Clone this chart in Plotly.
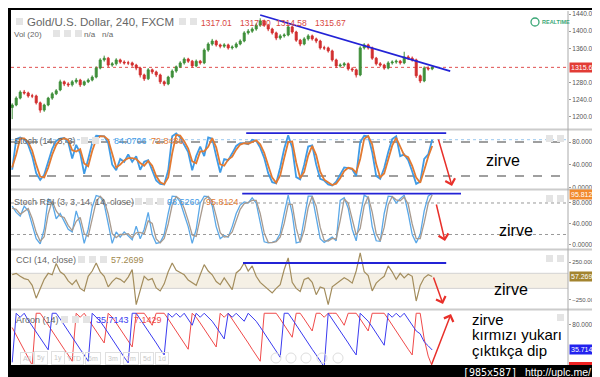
import plotly.graph_objects as go

# ---------------- data ----------------
bars = list(range(106))

opens = [1222,1228,1244,1258,1256,1249,1249,1233,1216,1228,
         1244,1254,1263,1282,1277,1275,1282,1286,1275,1282,
         1286,1293,1314,1333,1337,1321,1324,1333,1328,1326,
         1326,1321,1314,1298,1289,1310,1305,1298,1282,1277,
         1293,1307,1317,1326,1335,1330,1319,1330,1326,1356,
         1370,1377,1368,1365,1368,1361,1363,1370,1377,1396,
         1400,1405,1414,1424,1414,1405,1396,1384,1389,1391,
         1410,1398,1379,1370,1382,1389,1382,1377,1361,1361,
         1354,1333,1319,1321,1324,1312,1310,1298,1361,1368,
         1361,1337,1324,1321,1314,1326,1328,1330,1326,1340,
         1337,1333,1296,1284,1314,1312]
highs = [1232,1248,1262,1263,1259,1254,1252,1236,1231,1247,
         1258,1265,1287,1285,1281,1286,1291,1289,1285,1290,
         1297,1318,1337,1343,1340,1328,1337,1336,1332,1331,
         1329,1324,1317,1301,1314,1313,1308,1301,1285,1296,
         1311,1320,1330,1339,1338,1333,1334,1333,1360,1374,
         1382,1380,1371,1372,1371,1367,1374,1381,1400,1405,
         1409,1418,1430,1427,1417,1408,1399,1393,1395,1415,
         1413,1401,1382,1386,1393,1392,1385,1380,1366,1364,
         1357,1336,1325,1328,1327,1316,1313,1365,1372,1371,
         1364,1340,1328,1324,1330,1332,1334,1333,1352,1344,
         1341,1336,1299,1318,1318,1319]
lows = [1195,1225,1241,1252,1245,1244,1229,1210,1212,1225,
        1240,1251,1260,1272,1270,1271,1278,1270,1272,1279,
        1283,1290,1311,1329,1316,1317,1320,1324,1322,1321,
        1317,1309,1292,1284,1286,1300,1293,1277,1272,1274,
        1290,1303,1314,1322,1326,1315,1316,1322,1323,1352,
        1366,1364,1360,1361,1357,1357,1360,1367,1374,1392,
        1396,1401,1410,1410,1400,1392,1379,1380,1385,1388,
        1394,1375,1365,1367,1378,1378,1372,1357,1356,1350,
        1329,1314,1315,1317,1308,1305,1292,1295,1357,1357,
        1333,1320,1317,1310,1311,1322,1324,1322,1323,1333,
        1329,1291,1279,1281,1308,1309]
closes = [1228,1244,1258,1256,1249,1249,1233,1216,1228,1244,
          1254,1261,1282,1277,1275,1282,1286,1275,1282,1286,
          1293,1314,1333,1337,1321,1324,1333,1328,1326,1326,
          1321,1314,1298,1289,1310,1305,1298,1282,1277,1293,
          1307,1317,1326,1335,1330,1319,1330,1326,1356,1370,
          1377,1368,1365,1368,1361,1363,1370,1377,1396,1400,
          1405,1414,1424,1414,1405,1396,1384,1389,1391,1410,
          1398,1379,1370,1382,1389,1382,1377,1361,1361,1354,
          1333,1319,1321,1324,1312,1310,1298,1361,1368,1361,
          1337,1324,1321,1314,1326,1328,1330,1326,1340,1337,
          1333,1296,1284,1314,1312,1315.67]

stoch_k = [31,85,88,85,75,55,25,13,22,47,
           68,82,86,87,80,51,75,60,24,50,
           78,91,90,90,78,40,30,50,45,58,
           45,55,31,45,48,28,12,6,5,30,
           90,95,88,75,62,30,55,72,55,88,
           86,55,26,50,48,60,73,78,78,76,
           84,82,70,52,25,9,7,35,68,92,
           70,18,14,40,72,74,40,15,12,5,
           3,10,22,35,34,32,20,80,91,90,
           62,20,15,34,62,85,90,55,58,48,
           28,6,10,50,58,84.0706]
stoch_d = [35,58,86.5,86.5,80,65,40,19,17.5,34.5,
           57.5,75,84,86.5,83.5,65.5,63,67.5,42,37,
           64,84.5,90.5,90,84,59,35,40,47.5,51.5,
           51.5,50,43,38,46.5,38,20,9,5.5,17.5,
           60,92.5,91.5,81.5,68.5,46,42.5,63.5,63.5,71.5,
           87,70.5,40.5,38,49,54,66.5,75.5,78,77,
           80,83,76,61,38.5,17,8,21,51.5,80,
           81,44,16,27,56,73,57,27.5,13.5,8.5,
           4,6.5,16,28.5,34.5,33,26,50,85.5,90.5,
           76,41,17.5,24.5,48,73.5,87.5,72.5,56.5,53,
           38,17,8,30,54,72.8436]

srsi_k = [74,62,55,74,65,36,12,2,30,88,
          80,50,60,45,30,25,65,40,3,30,
          72,94,92,78,40,3,25,15,25,18,
          10,36,12,30,62,20,3,5,20,60,
          93,92,82,58,35,3,30,80,93,92,
          75,35,12,18,15,35,60,76,82,80,
          90,80,40,6,4,5,8,22,60,95,
          60,4,6,50,93,93,55,12,5,10,
          15,8,85,90,70,30,8,55,95,90,
          35,8,7,60,93,92,80,88,95,60,
          20,4,20,65,93,98.526]
srsi_d = [70,68,58.5,64.5,69.5,50.5,24,7,16,59,
          84,65,55,52.5,37.5,27.5,45,52.5,21.5,16.5,
          51,83,93,85,59,21.5,14,20,20,21.5,
          14,23,24,21,46,41,11.5,4,12.5,40,
          76.5,92.5,87,70,46.5,19,16.5,55,86.5,92.5,
          83.5,55,23.5,15,16.5,25,47.5,68,79,81,
          85,85,60,23,5,4.5,6.5,15,41,77.5,
          77.5,32,5,28,71.5,93,74,33.5,8.5,7.5,
          12.5,11.5,46.5,87.5,80,50,19,31.5,75,92.5,
          62.5,21.5,7.5,33.5,76.5,92.5,86,84,91.5,77.5,
          40,12,12,42.5,79,95.8124]

cci = [82,100,60,30,15,-60,-230,-100,20,100,
       80,230,120,82,0,-50,10,-100,-134,60,
       130,237,120,60,-80,-10,40,20,-20,50,
       149,-316,-120,60,10,30,-94,-134,-40,120,
       237,140,110,80,10,-30,-60,80,215,130,
       80,-10,-50,40,-40,-117,105,150,240,130,
       198,60,-20,-68,-120,-160,-100,-50,150,304,
       -20,-100,-140,20,40,-20,-183,-80,-100,-316,
       -80,-40,-10,40,10,-30,131,370,120,70,
       -134,-30,20,60,198,120,20,100,40,90,
       60,-267,-60,40,82,57.2699]

aroon_up = [14,100,93,100,88,78,67,57,46,36,
            100,100,90,79,69,58,48,37,27,16,
            100,93,86,76,65,55,44,34,23,13,
            100,100,90,79,69,58,48,37,27,100,
            93,100,93,100,90,79,100,93,100,93,
            86,76,65,55,100,93,100,93,86,100,
            93,86,76,65,55,44,34,23,100,100,
            90,79,69,58,48,37,27,16,6,100,
            90,79,69,58,48,37,27,100,93,86,
            76,65,55,44,100,93,100,93,100,90,
            79,69,64,50,43,35.7143]
aroon_down = [75,62,48,35,22,9,100,100,90,79,
              69,58,48,37,27,16,100,93,100,90,
              79,69,58,48,100,93,83,72,62,51,
              41,100,100,100,90,79,100,100,100,90,
              79,69,58,48,37,100,93,83,72,62,
              51,41,100,93,100,90,79,69,58,48,
              37,27,16,100,100,100,100,90,79,69,
              58,100,100,90,79,69,100,100,93,100,
              100,100,90,79,100,100,100,90,79,69,
              100,100,100,100,90,79,69,58,48,37,
              27,100,100,55,25,7.1429]

price_ticks = [1200, 1240, 1280, 1360, 1400, 1440]
osc_ticks = [0, 40, 80]
cci_ticks = [-250, 250]
aroon_ticks = [80]

last_price = 1315.67
ohlc_text = ["1317.01", "1317.80", "1314.58", "1315.67"]

# user drawings (bar index / value anchors)
trend_main_x, trend_main_y = [62.0, 109.5], [1437.7, 1307.0]
stoch_top_x, stoch_top_y = [58.5, 108.5], [95.5, 95.5]
srsi_top_x, srsi_top_y = [57.5, 112.2], [97.7, 97.7]
cci_top_x, cci_top_y = [57.7, 108.5], [237, 237]

# ---------------- styling ----------------
W, H = 600, 377
FONT = "Liberation Sans, Arial, sans-serif"
GREEN, RED = "#3f8f3a", "#d22f2f"
DBLUE = "#2323d6"


def X(px):
    return px / W


def Y(py):
    return 1 - py / H


fig = go.Figure()

fig.add_trace(go.Candlestick(
    x=bars, open=opens, high=highs, low=lows, close=closes,
    increasing=dict(line=dict(color=GREEN, width=1), fillcolor=GREEN),
    decreasing=dict(line=dict(color=RED, width=1), fillcolor=RED),
    whiskerwidth=0, xaxis="x", yaxis="y", hoverinfo="skip"))
fig.add_trace(go.Scatter(x=trend_main_x, y=trend_main_y, mode="lines",
                         line=dict(color=DBLUE, width=1.8), xaxis="x", yaxis="y"))

fig.add_trace(go.Scatter(x=bars, y=stoch_k, mode="lines",
                         line=dict(color="#3f9be6", width=1.8), xaxis="x", yaxis="y2"))
fig.add_trace(go.Scatter(x=bars, y=stoch_d, mode="lines",
                         line=dict(color="#e27a32", width=1.8), xaxis="x", yaxis="y2"))
fig.add_trace(go.Scatter(x=stoch_top_x, y=stoch_top_y, mode="lines",
                         line=dict(color=DBLUE, width=1.8), xaxis="x", yaxis="y2"))

fig.add_trace(go.Scatter(x=bars, y=srsi_k, mode="lines",
                         line=dict(color="#5aa8e8", width=1.3), xaxis="x", yaxis="y3"))
fig.add_trace(go.Scatter(x=bars, y=srsi_d, mode="lines",
                         line=dict(color="#a89a8e", width=1.3), xaxis="x", yaxis="y3"))
fig.add_trace(go.Scatter(x=srsi_top_x, y=srsi_top_y, mode="lines",
                         line=dict(color=DBLUE, width=1.8), xaxis="x", yaxis="y3"))

fig.add_trace(go.Scatter(x=bars, y=cci, mode="lines",
                         line=dict(color="#a38d5d", width=1.2), xaxis="x", yaxis="y4"))
fig.add_trace(go.Scatter(x=cci_top_x, y=cci_top_y, mode="lines",
                         line=dict(color=DBLUE, width=1.8), xaxis="x", yaxis="y4"))

fig.add_trace(go.Scatter(x=bars, y=aroon_down, mode="lines",
                         line=dict(color="#f04a4a", width=1), xaxis="x", yaxis="y5"))
fig.add_trace(go.Scatter(x=bars, y=aroon_up, mode="lines",
                         line=dict(color="#3b3bf0", width=1), xaxis="x", yaxis="y5"))


def yax(dom, rng, tickvals, fmt, fsize=6.5):
    return dict(domain=dom, range=rng, side="right", anchor="x",
                tickvals=tickvals, tickformat=fmt, ticks="outside", ticklen=2,
                tickcolor="#999", tickfont=dict(family=FONT, size=fsize, color="#555"),
                showgrid=False, zeroline=False, showline=False, fixedrange=True,
                automargin=False)


fig.update_layout(
    width=W, height=H, margin=dict(l=0, r=0, t=0, b=0, pad=0, autoexpand=False),
    paper_bgcolor="white", plot_bgcolor="white", showlegend=False,
    xaxis=dict(domain=[X(3), X(560)], range=[-0.3, 138.95], visible=False,
               rangeslider=dict(visible=False), fixedrange=True, automargin=False),
    yaxis=yax([Y(121), Y(3)], [1172, 1447], price_ticks, ".2f"),
    yaxis2=yax([Y(181), Y(122.5)], [-3, 100.3], osc_ticks, ".4f"),
    yaxis3=yax([Y(240.5), Y(182.5)], [-6.7, 103.8], osc_ticks, ".4f"),
    yaxis4=yax([Y(300.5), Y(242.5)], [-366.7, 402.5], cci_ticks, ".4f", 6.0),
    yaxis5=yax([0, Y(302)], [-25.6, 105.7], aroon_ticks, ".4f"),
)

shapes = []
# CCI band
shapes.append(dict(type="rect", xref="x domain", yref="y4", x0=0, x1=1, y0=-100, y1=100,
                   fillcolor="#f5f0e5", line=dict(width=0), layer="below"))
for v in (-100, 100):
    shapes.append(dict(type="line", xref="x domain", yref="y4", x0=0, x1=1, y0=v, y1=v,
                       line=dict(color="#d3d3d3", width=1), layer="below"))
# stoch levels
for v in (80, 20):
    shapes.append(dict(type="line", xref="x domain", yref="y2", x0=0, x1=1, y0=v, y1=v,
                       line=dict(color="#808080", width=1.5, dash="dash"), layer="below"))
shapes.append(dict(type="line", xref="x domain", yref="y2", x0=0, x1=1, y0=stoch_k[-1], y1=stoch_k[-1],
                   line=dict(color="#9cc9ef", width=1, dash="dot"), layer="below"))
# stoch rsi levels
for v in (80, 20):
    shapes.append(dict(type="line", xref="x domain", yref="y3", x0=0, x1=1, y0=v, y1=v,
                       line=dict(color="#999999", width=1, dash="dot"), layer="below"))
# last price line
shapes.append(dict(type="line", xref="x domain", yref="y", x0=0, x1=1, y0=last_price, y1=last_price,
                   line=dict(color="#e05050", width=1, dash="dot"), layer="below"))
# separators
for py in (121.5, 181.5, 241.5, 301.5):
    shapes.append(dict(type="line", xref="paper", yref="paper", x0=X(3), x1=X(596),
                       y0=Y(py), y1=Y(py), line=dict(color="#cccccc", width=2)))
# right axis line
shapes.append(dict(type="line", xref="paper", yref="paper", x0=X(560), x1=X(560),
                   y0=Y(3), y1=Y(357), line=dict(color="#aaaaaa", width=1)))
# small gray icon squares
icon_boxes = [(8, 10), (171, 10), (182, 10), (45, 22), (56, 22), (67, 22),
              (73, 129), (84, 129), (127, 190), (138, 190), (149, 190),
              (70, 248), (81, 248), (92, 248), (53, 308), (64, 308), (75, 308),
              (538, 127), (549, 127), (538, 187), (549, 187), (538, 247), (549, 247), (549, 306)]
for bx, by in icon_boxes:
    shapes.append(dict(type="rect", xref="paper", yref="paper", x0=X(bx), x1=X(bx + 7),
                       y0=Y(by + 7), y1=Y(by), fillcolor="#e4e4e4", line=dict(width=0)))
# faint range-selector circles
for cx in (268, 283, 298, 314, 330):
    shapes.append(dict(type="circle", xref="paper", yref="paper", x0=X(cx - 5), x1=X(cx + 5),
                       y0=Y(355), y1=Y(345), line=dict(color="#dedede", width=1)))
# realtime icon
shapes.append(dict(type="circle", xref="paper", yref="paper", x0=X(523), x1=X(531),
                   y0=Y(18), y1=Y(10), line=dict(color="#3aa776", width=1.3)))
# aroon down value box (cut by the frame)
shapes.append(dict(type="rect", xref="paper", yref="paper", x0=X(561), x1=X(590),
                   y0=Y(363), y1=Y(354), fillcolor="#ee2222", line=dict(width=0)))
# black frame
for x0, x1, y0, y1 in [(0, 3, 0, 377), (596, 600, 0, 377), (0, 600, 0, 2), (0, 600, 357, 377)]:
    shapes.append(dict(type="rect", xref="paper", yref="paper", x0=X(x0), x1=X(x1),
                       y0=Y(y1), y1=Y(y0), fillcolor="black", line=dict(width=0), layer="above"))
fig.update_layout(shapes=shapes)

ann = []


def txt(px, py, s, size=9, color="#555", family=FONT, anchor="left", pad=0, **kw):
    ann.append(dict(xref="paper", yref="paper", x=X(px), y=Y(py), text=s, showarrow=False,
                    xanchor=anchor, yanchor="middle", borderpad=pad,
                    font=dict(family=family, size=size, color=color), **kw))


txt(18, 14, "Gold/U.S. Dollar, 240, FXCM", size=11.5, color="#666")
for px, s in zip((192, 231, 267, 306), ohlc_text):
    txt(px, 15, s, size=8.5, color="#d9463f")
txt(5, 26, "Vol (20)", size=8, color="#666")
txt(75, 26, "n/a", size=8, color="#666")
txt(93, 26, "n/a", size=8, color="#666")
txt(533, 14, "<b>REALTIME</b>", size=5.5, color="#3aa776")

txt(5, 133, "Stoch (14, 3, 3)", size=9, color="#666")
txt(105, 133, "84.0706", size=9, color="#3f9be6")
txt(142, 133, "72.8436", size=9, color="#e27a32")
txt(5, 194, "Stoch RSI (3, 3, 14, 14, close)", size=9, color="#666")
txt(158, 194, "98.5260", size=9, color="#3f9be6")
txt(197, 194, "95.8124", size=9, color="#e27a32")
txt(7, 252, "CCI (14, close)", size=9, color="#666")
txt(102, 252, "57.2699", size=9, color="#a0884e")
txt(7, 312, "Aroon (14)", size=9, color="#666")
txt(87, 312, "35.7143", size=9, color="#3b3bf0")
txt(125, 312, "7.1429", size=9, color="#f04a4a")

# right-axis value boxes
for yref, val, s, bg in [("y", last_price, "1315.67", "#e23c36"),
                         ("y3", srsi_d[-1], "95.8124", "#f28a2d"),
                         ("y4", cci[-1], "57.2699", "#a3842f"),
                         ("y5", aroon_up[-1], "35.7143", "#2222ee")]:
    ann.append(dict(xref="paper", yref=yref, x=X(561), y=val, text=s, showarrow=False,
                    xanchor="left", yanchor="middle", bgcolor=bg, borderpad=1,
                    font=dict(family=FONT, size=7, color="white")))

# notes
txt(477, 152, "zirve", size=16, color="black")
txt(490, 222, "zirve", size=16, color="black")
txt(485, 281, "zirve", size=16, color="black")
txt(463, 311, "zirve", size=15, color="black")
txt(463, 326.5, "kırmızı yukarı", size=15, color="black")
txt(463, 342, "çıktıkça dip", size=15, color="black")

# range selector (faint)
for px, s in zip((19, 33, 50, 66, 85, 105, 123, 139, 154),
                 ("All", "5y", "1y", "YTD", "6m", "3m", "1m", "5d", "1d")):
    txt(px, 350, s, size=7, color="#c8c8c8", anchor="center", pad=2,
        bordercolor="#e0e0e0", borderwidth=1)

# red arrows
for hx, hy, ax, ay in [(444, 178, -14, -48), (437, 233, -9, -38), (435, 296, -10, -28), (443, 306, -20, 52)]:
    ann.append(dict(xref="paper", yref="paper", x=X(hx), y=Y(hy), ax=ax, ay=ay,
                    axref="pixel", ayref="pixel", text="", showarrow=True,
                    arrowhead=4, arrowsize=1.3, arrowwidth=1.5, arrowcolor="#e8302a"))

# footer
txt(454, 364, "[985x587]", size=10, color="white", family="DejaVu Sans Mono")
txt(516, 364, "http://uplc.me/", size=10.5, color="white", family=FONT)

fig.update_layout(annotations=ann)
fig.write_html("out.html")
